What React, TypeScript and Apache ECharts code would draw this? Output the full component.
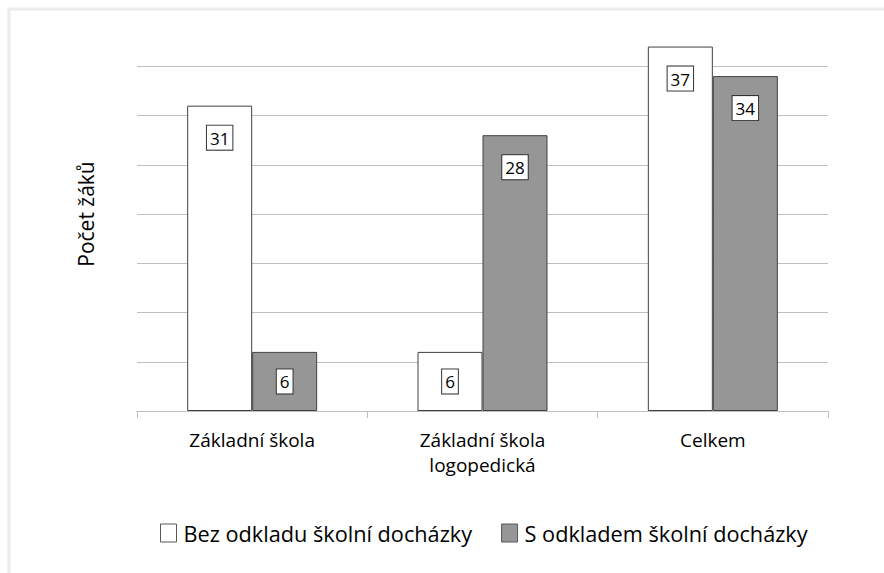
import React, { useEffect, useRef } from "react";
import * as echarts from "echarts";

const categories = ["Základní škola", "Základní škola logopedická", "Celkem"];
const seriesNames = ["Bez odkladu školní docházky", "S odkladem školní docházky"];
const withoutDelay = [31, 6, 37];
const withDelay = [6, 28, 34];

const FONT = "'Open Sans', sans-serif";

function makeData(values: number[]) {
  return values.map((v) => ({
    value: v,
    label: v < 10 ? { position: "inside" } : { position: "insideTop", distance: 20 },
  }));
}

const labelStyle = {
  show: true,
  color: "#000",
  fontFamily: FONT,
  fontSize: 17,
  lineHeight: 17,
  backgroundColor: "#fff",
  borderColor: "#333",
  borderWidth: 1,
  padding: [4, 3, 3, 3],
};

export default function App() {
  const ref = useRef<HTMLDivElement>(null);
  useEffect(() => {
    document.body.style.margin = "0";
    if (!ref.current) return;
    const chart = echarts.init(ref.current, null, { renderer: "svg" });
    chart.setOption({
      animation: false,
      backgroundColor: "#fff",
      graphic: [
        {
          type: "rect",
          shape: { x: 9, y: 9, width: 900, height: 600 },
          style: { fill: "none", stroke: "#ebebeb", lineWidth: 3 },
          silent: true,
        },
      ],
      grid: { left: 137, right: 56, top: 17, bottom: 162 },
      legend: {
        left: 160,
        top: 522,
        padding: 0,
        icon: "rect",
        itemWidth: 16,
        itemHeight: 18,
        itemGap: 29,
        textStyle: { fontFamily: FONT, fontSize: 21.7, color: "#000", padding: [0, 0, 0, 2] },
        data: [
          { name: seriesNames[0], itemStyle: { color: "#fff", borderColor: "#595959", borderWidth: 1 } },
          { name: seriesNames[1], itemStyle: { color: "#969696", borderColor: "#595959", borderWidth: 1 } },
        ],
      },
      xAxis: {
        type: "category",
        data: categories,
        axisLine: { lineStyle: { color: "#bfbfbf", width: 1 } },
        axisTick: { show: true, length: 7, lineStyle: { color: "#bfbfbf" } },
        axisLabel: {
          color: "#000",
          fontFamily: FONT,
          fontSize: 19,
          lineHeight: 25,
          margin: 16,
          formatter: (v: string) => v.replace(" logopedická", "\nlogopedická"),
        },
      },
      yAxis: {
        type: "value",
        min: 0,
        max: 40,
        interval: 5,
        name: "Počet žáků",
        nameLocation: "middle",
        nameGap: 41,
        nameTextStyle: { fontFamily: FONT, fontSize: 21, color: "#000" },
        axisLine: { show: false },
        axisTick: { show: false },
        axisLabel: { show: false },
        splitLine: { show: true, showMaxLine: false, lineStyle: { color: "#bfbfbf", width: 1 } },
      },
      series: [
        {
          name: seriesNames[0],
          type: "bar",
          data: makeData(withoutDelay),
          barWidth: 65,
          barGap: "0%",
          itemStyle: { color: "#fff", borderColor: "#404040", borderWidth: 1 },
          label: labelStyle,
        },
        {
          name: seriesNames[1],
          type: "bar",
          data: makeData(withDelay),
          barWidth: 65,
          barGap: "0%",
          itemStyle: { color: "#969696", borderColor: "#404040", borderWidth: 1 },
          label: labelStyle,
        },
      ],
    });
    return () => chart.dispose();
  }, []);
  return <div ref={ref} style={{ width: 884, height: 573 }} />;
}
